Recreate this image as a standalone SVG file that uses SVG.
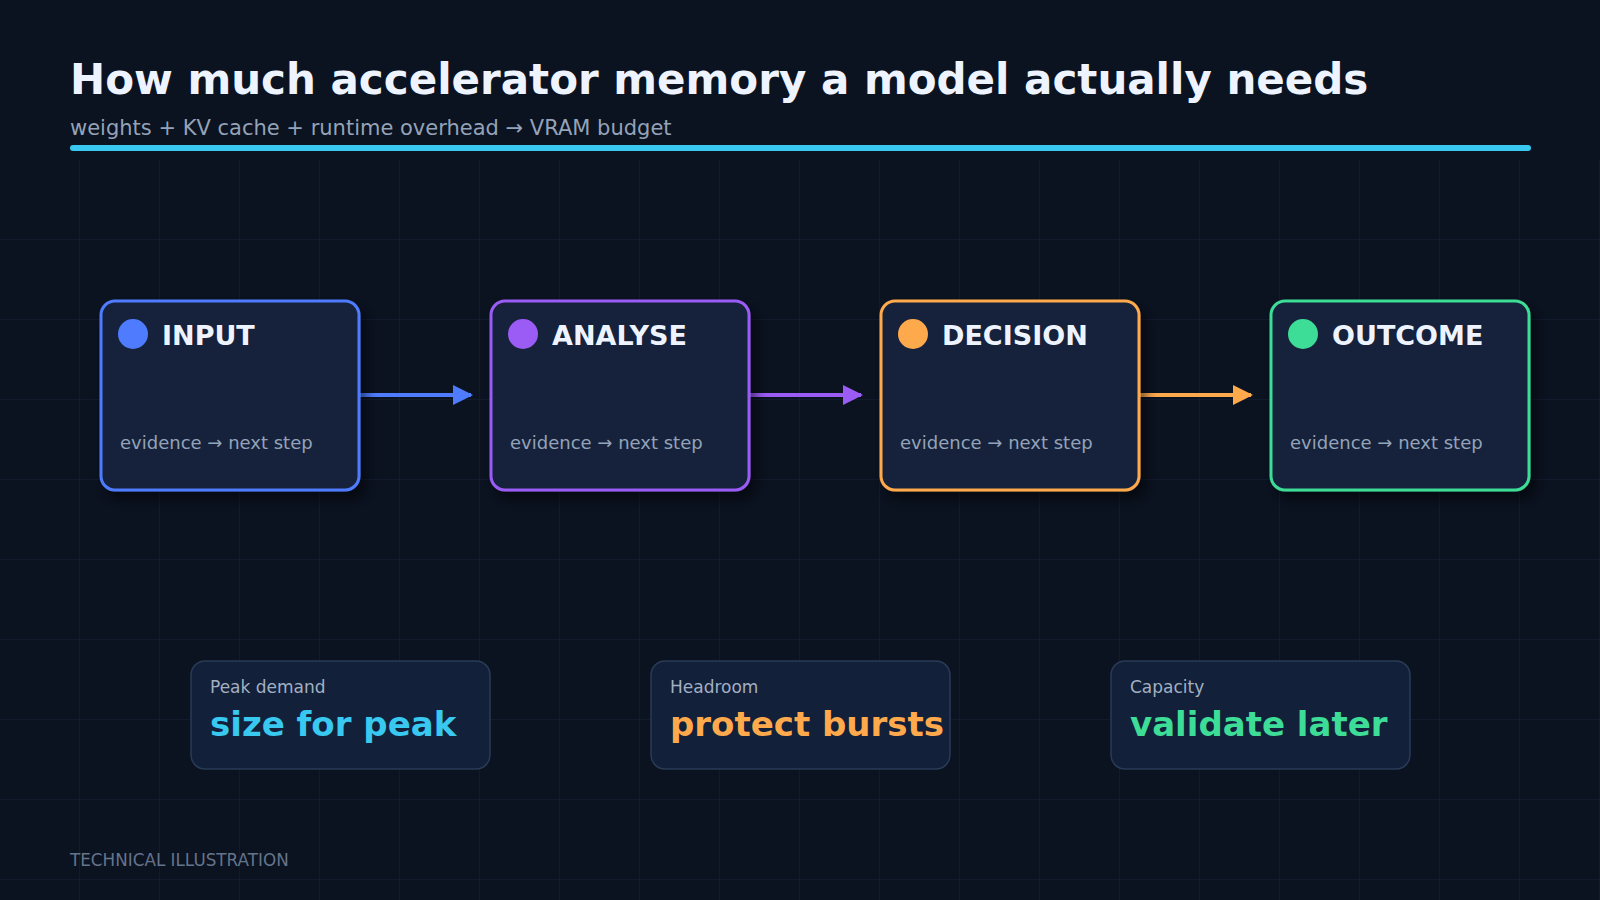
<svg xmlns="http://www.w3.org/2000/svg" width="1600" height="900" viewBox="0 0 1600 900">
<defs>
<pattern id="grid" width="80" height="80" patternUnits="userSpaceOnUse" x="0" y="0">
<path d="M80 0V80M0 80H80" fill="none" stroke="#16233a" stroke-width="1"/>
</pattern>
<filter id="sh" x="-20%" y="-20%" width="150%" height="150%"><feDropShadow dx="6" dy="8" stdDeviation="6" flood-color="#000" flood-opacity="0.5"/></filter>
<marker id="aB" markerWidth="20" markerHeight="20" refX="18" refY="10" orient="auto" markerUnits="userSpaceOnUse" viewBox="0 0 20 20"><path d="M0 0L20 10L0 20z" fill="#4f7cff"/></marker>
<marker id="aP" markerWidth="20" markerHeight="20" refX="18" refY="10" orient="auto" markerUnits="userSpaceOnUse" viewBox="0 0 20 20"><path d="M0 0L20 10L0 20z" fill="#9b5cf6"/></marker>
<marker id="aO" markerWidth="20" markerHeight="20" refX="18" refY="10" orient="auto" markerUnits="userSpaceOnUse" viewBox="0 0 20 20"><path d="M0 0L20 10L0 20z" fill="#ffa94d"/></marker>
</defs>
<style>
text{font-family:"DejaVu Sans","Noto Sans",sans-serif}
.box{fill:#13213a;stroke-width:3;filter:url(#sh)}
.ttl{font-size:27px;font-weight:bold;fill:#eef4ff}
.sub{font-size:18px;fill:#94a3b8}
.card{fill:#12203a;stroke:#2a3b56;stroke-width:1.5}
.cl{font-size:17px;fill:#a3b0c2}
.cv{font-size:34px;font-weight:bold}
.con{stroke-width:4;fill:none}
</style>
<rect width="1600" height="900" fill="#0b1220"/>
<rect y="160" width="1600" height="740" fill="url(#grid)"/>
<text x="70" y="94" font-size="42" font-weight="bold" fill="#eef4ff">How much accelerator memory a model actually needs</text>
<text x="70" y="135" font-size="21" fill="#94a3b8">weights + KV cache + runtime overhead → VRAM budget</text>
<rect x="70" y="145" width="1461" height="6" rx="3" fill="#38c8f0"/>
<g id="connectors">
<line class="con" x1="360" y1="395" x2="471" y2="395" stroke="#4f7cff" marker-end="url(#aB)"/>
<line class="con" x1="750" y1="395" x2="861" y2="395" stroke="#9b5cf6" marker-end="url(#aP)"/>
<line class="con" x1="1140" y1="395" x2="1251" y2="395" stroke="#ffa94d" marker-end="url(#aO)"/>
</g>
<g id="input"><rect class="box" x="101" y="301" width="258" height="189" rx="14" stroke="#4f7cff"/><circle cx="133" cy="334" r="15" fill="#4f7cff"/><text class="ttl" x="162" y="345">INPUT</text><text class="sub" x="120" y="449">evidence → next step</text></g>
<g id="analyse"><rect class="box" x="491" y="301" width="258" height="189" rx="14" stroke="#9b5cf6"/><circle cx="523" cy="334" r="15" fill="#9b5cf6"/><text class="ttl" x="552" y="345">ANALYSE</text><text class="sub" x="510" y="449">evidence → next step</text></g>
<g id="decision"><rect class="box" x="881" y="301" width="258" height="189" rx="14" stroke="#ffa94d"/><circle cx="913" cy="334" r="15" fill="#ffa94d"/><text class="ttl" x="942" y="345">DECISION</text><text class="sub" x="900" y="449">evidence → next step</text></g>
<g id="outcome"><rect class="box" x="1271" y="301" width="258" height="189" rx="14" stroke="#3ddc97"/><circle cx="1303" cy="334" r="15" fill="#3ddc97"/><text class="ttl" x="1332" y="345">OUTCOME</text><text class="sub" x="1290" y="449">evidence → next step</text></g>
<g id="peak"><rect class="card" x="191" y="661" width="299" height="108" rx="14"/><text class="cl" x="210" y="693">Peak demand</text><text class="cv" x="210" y="736" fill="#38c8f0">size for peak</text></g>
<g id="headroom"><rect class="card" x="651" y="661" width="299" height="108" rx="14"/><text class="cl" x="670" y="693">Headroom</text><text class="cv" x="670" y="736" fill="#ffa94d">protect bursts</text></g>
<g id="capacity"><rect class="card" x="1111" y="661" width="299" height="108" rx="14"/><text class="cl" x="1130" y="693">Capacity</text><text class="cv" x="1130" y="736" fill="#3ddc97">validate later</text></g>
<text x="70" y="866" font-size="16.8" fill="#64748b" font-family="Liberation Sans, sans-serif">TECHNICAL ILLUSTRATION</text>
</svg>
